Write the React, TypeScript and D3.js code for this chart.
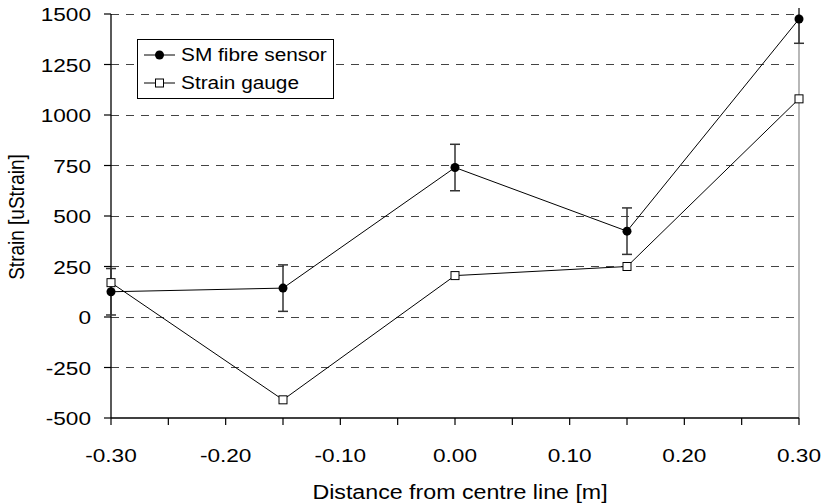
import React from "react";
import * as d3 from "d3";

const positions = [-0.3, -0.15, 0.0, 0.15, 0.3];
const fibreStrain = [125, 143, 740, 425, 1475];
const fibreError = [115, 115, 115, 115, 120];
const gaugeStrain = [170, -410, 205, 250, 1080];
const xTicks = [-0.3, -0.25, -0.2, -0.15, -0.1, -0.05, 0, 0.05, 0.1, 0.15, 0.2, 0.25, 0.3];
const xLabelTicks = [-0.3, -0.2, -0.1, 0, 0.1, 0.2, 0.3];
const yTicks = [-500, -250, 0, 250, 500, 750, 1000, 1250, 1500];
const seriesNames = ["SM fibre sensor", "Strain gauge"];

const W = 825;
const H = 504;
const left = 111;
const right = 799;
const top = 14;
const bottom = 418;
const font = "'Liberation Sans', Arial, sans-serif";
// text is drawn slightly widened horizontally
const SX = 1.19;

const fmtX = (v: number) => d3.format(".2f")(v).replace("\u2212", "-");

function Label(props: {
  x: number;
  y: number;
  size: number;
  anchor?: "start" | "middle" | "end";
  children: React.ReactNode;
}) {
  return (
    <text
      transform={`translate(${props.x},${props.y}) scale(${SX},1)`}
      textAnchor={props.anchor ?? "start"}
      fontSize={props.size}
      fill="#000"
    >
      {props.children}
    </text>
  );
}

export default function App() {
  const x = d3.scaleLinear().domain([-0.3, 0.3]).range([left, right]);
  const y = d3.scaleLinear().domain([-500, 1500]).range([bottom, top]);
  const line = d3
    .line<[number, number]>()
    .x((d) => x(d[0]))
    .y((d) => y(d[1]));
  const fibrePts = positions.map((p, i) => [p, fibreStrain[i]] as [number, number]);
  const gaugePts = positions.map((p, i) => [p, gaugeStrain[i]] as [number, number]);

  return (
    <svg
      width={W}
      height={H}
      style={{ position: "absolute", left: 0, top: 0, background: "#fff" }}
      fontFamily={font}
    >
      <defs>
        <clipPath id="plot">
          <rect x={left - 6} y={top - 6} width={right - left + 12} height={bottom - top + 12} />
        </clipPath>
      </defs>
      {/* horizontal dashed gridlines */}
      {yTicks
        .filter((t) => t !== -500)
        .map((t) => (
          <line
            key={"g" + t}
            x1={left}
            x2={right}
            y1={y(t)}
            y2={y(t)}
            stroke="#444"
            strokeWidth={1}
            strokeDasharray="8,7"
            shapeRendering="crispEdges"
          />
        ))}
      {/* right frame */}
      <line x1={right} x2={right} y1={top} y2={bottom} stroke="#888" strokeWidth={1.2} />
      {/* axes */}
      <line x1={left} x2={left} y1={top} y2={bottom} stroke="#000" strokeWidth={1.3} />
      <line x1={left} x2={right} y1={bottom} y2={bottom} stroke="#000" strokeWidth={1.3} />
      {yTicks.map((t) => (
        <g key={"y" + t}>
          <line x1={left - 7} x2={left} y1={y(t)} y2={y(t)} stroke="#000" strokeWidth={1.2} />
          <Label x={91} y={y(t) + 7} size={19} anchor="end">
            {t}
          </Label>
        </g>
      ))}
      {xTicks.map((t) => (
        <line
          key={"xt" + t}
          x1={x(t)}
          x2={x(t)}
          y1={bottom}
          y2={bottom + 7}
          stroke="#000"
          strokeWidth={1.2}
        />
      ))}
      {xLabelTicks.map((t) => (
        <Label key={"xl" + t} x={x(t)} y={462} size={19} anchor="middle">
          {fmtX(t)}
        </Label>
      ))}
      <Label x={460} y={499} size={19.5} anchor="middle">
        Distance from centre line [m]
      </Label>
      <text
        transform={`translate(24,${217}) scale(${SX},1) rotate(-90)`}
        textAnchor="middle"
        fontSize={19}
        fill="#000"
      >
        Strain [uStrain]
      </text>

      <g clipPath="url(#plot)">
        {/* error bars */}
        {positions.map((p, i) => {
          const lo = y(fibreStrain[i] - fibreError[i]);
          const hi = y(fibreStrain[i] + fibreError[i]);
          return (
            <g key={"e" + i} stroke="#333" strokeWidth={1.5}>
              <line x1={x(p)} x2={x(p)} y1={lo} y2={hi} />
              <line x1={x(p) - 5} x2={x(p) + 5} y1={lo} y2={lo} />
              <line x1={x(p) - 5} x2={x(p) + 5} y1={hi} y2={hi} />
            </g>
          );
        })}
        <path d={line(fibrePts) ?? ""} fill="none" stroke="#000" strokeWidth={1} />
        <path d={line(gaugePts) ?? ""} fill="none" stroke="#000" strokeWidth={1} />
        {gaugePts.map((d, i) => (
          <rect
            key={"s" + i}
            x={x(d[0]) - 4}
            y={y(d[1]) - 4}
            width={8}
            height={8}
            fill="#fff"
            stroke="#000"
            strokeWidth={1}
          />
        ))}
        {fibrePts.map((d, i) => (
          <circle key={"c" + i} cx={x(d[0])} cy={y(d[1])} r={4.5} fill="#000" />
        ))}
      </g>

      {/* legend */}
      <rect x={137.5} y={39.5} width={196} height={59} fill="#fff" stroke="#000" strokeWidth={1} />
      <line x1={144} x2={175} y1={55} y2={55} stroke="#000" strokeWidth={1} />
      <circle cx={159.5} cy={55} r={4.5} fill="#000" />
      <Label x={181} y={61} size={17.5}>
        {seriesNames[0]}
      </Label>
      <line x1={144} x2={175} y1={83} y2={83} stroke="#000" strokeWidth={1} />
      <rect x={155.5} y={79} width={8} height={8} fill="#fff" stroke="#000" strokeWidth={1} />
      <Label x={181} y={89} size={17.5}>
        {seriesNames[1]}
      </Label>
    </svg>
  );
}
